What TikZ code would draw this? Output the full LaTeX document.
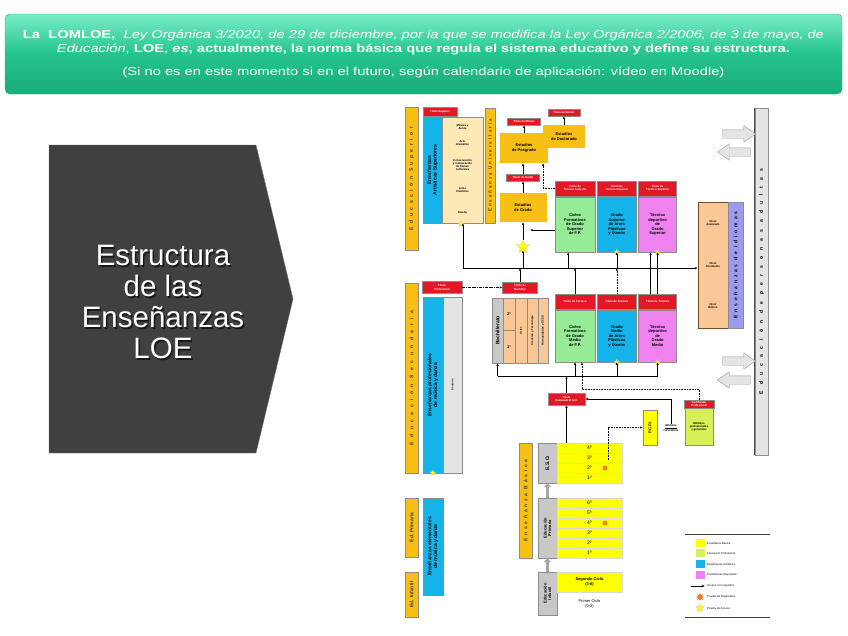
\documentclass[tikz,border=0pt]{standalone}
\usepackage{fontspec}
\setmainfont{Liberation Sans}
\newfontfamily\bannerfont[FakeStretch=1.28]{Liberation Sans}
\usetikzlibrary{arrows.meta,shapes.geometric,shapes.arrows,positioning,calc}

\definecolor{bangreen}{RGB}{36,196,140}
\definecolor{banlight}{RGB}{120,236,200}
\definecolor{bandark}{RGB}{26,172,120}
\definecolor{slate}{RGB}{64,64,64}
\definecolor{gold}{RGB}{247,190,20}
\definecolor{tred}{RGB}{226,24,36}
\definecolor{skyb}{RGB}{20,180,235}
\definecolor{cream}{RGB}{252,233,182}
\definecolor{mint}{RGB}{150,235,150}
\definecolor{orchid}{RGB}{240,130,240}
\definecolor{peach}{RGB}{250,200,150}
\definecolor{lgrey}{RGB}{200,200,200}
\definecolor{pale}{RGB}{228,228,228}
\definecolor{lemon}{RGB}{255,255,0}
\definecolor{lime}{RGB}{215,240,90}
\definecolor{lilac}{RGB}{155,155,240}
\definecolor{tangerine}{RGB}{245,120,30}

\newcommand\dfont{\fontsize{4}{4.5}\selectfont\bfseries}
\newcommand\rfont{\fontsize{5}{5.6}\selectfont\bfseries}
\newcommand\tfont{\fontsize{2.8}{3.1}\selectfont\bfseries}
\newcommand\bfont{\bannerfont\fontsize{11.5}{14}\selectfont}
\newcommand\barfont[2]{\fontsize{#1}{#1}\selectfont\bfseries\addfontfeatures{LetterSpace=#2}}

\begin{document}
\begin{tikzpicture}[
  x=1pt,y=-1pt,
  wh/.style 2 args={minimum width=#1pt,minimum height=#2pt},
  banner/.style={rounded corners=5pt,top color=banlight,bottom color=bandark,middle color=bangreen,draw=bandark,text=white,align=center,font=\bfont,inner sep=0pt},
  cell/.style={draw=black!45,line width=0.3pt,inner sep=0.3pt,align=center,font=\dfont},
  bar/.style={cell,fill=gold,rotate=90,text=black!75},
  ubox/.style={cell,fill=gold,draw=none},
  tit/.style={cell,fill=tred,text=white,font=\tfont},
  lbl/.style={inner sep=0pt,align=center,font=\tfont},
  yel/.style={cell,fill=lemon,draw=black!15},
  pstar/.style={star,star points=5,star point ratio=2.2,fill=lemon,draw=black!25,line width=0.2pt,inner sep=0pt,minimum size=#1pt},
  dstar/.style={star,star points=8,star point ratio=1.8,fill=tangerine,inner sep=0pt,minimum size=6pt},
  arr/.style={-{Latex[length=2.6pt,width=2.2pt]},line width=0.6pt},
  dotarr/.style={arr,densely dotted},
  dasharr/.style={arr,densely dashdotted},
  growarr/.style={-{Triangle[length=4pt,width=7pt]},line width=3pt,draw=black!35},
  blk/.style={single arrow,draw=black!40,fill=pale,minimum height=33pt,minimum width=16pt,inner sep=4pt,single arrow head extend=4pt,single arrow tip angle=70}
]
\useasboundingbox (0,0) rectangle (848,635);

\node[banner,wh={837}{80}] (banner) at (423.5,54) {%
  {\bfseries La\ \ LOMLOE,}\ \ \textit{Ley Orgánica 3/2020, de 29 de diciembre, por la que se modifica la Ley Orgánica 2/2006, de 3 de mayo, de}\\
  \textit{Educación}, \textbf{LOE}, \textbf{\textit{es}}\textbf{, actualmente, la norma básica que regula el sistema educativo y define su estructura.}\\[9pt]
  (Si no es en este momento si en el futuro, según calendario de aplicación: vídeo en Moodle)};

\filldraw[fill=slate,draw=black!55] (49,145) -- (256,145) -- (293,299) -- (256,453) -- (49,453) -- cycle;
\node[text=black!90,align=center,font=\fontsize{29.5}{31}\selectfont] (titleshadow) at (164.5,303.5) {Estructura\\de las\\Enseñanzas\\LOE};
\node[text=white,align=center,font=\fontsize{29.5}{31}\selectfont] (title) at (163,302) {Estructura\\de las\\Enseñanzas\\LOE};

\node[bar,wh={143}{13},font=\barfont{5}{70}] (supbar) at (411.5,178.5) {Educación Superior};
\node[tit,wh={34}{9}] (tsup) at (440,111.5) {Título Superior};
\node[cell,fill=skyb,rotate=90,wh={106}{19},font=\rfont] (artsup) at (432.5,170) {Enseñanzas\\Artísticas Superiores};
\node[cell,fill=cream,wh={41}{106}] (artlist) at (462.5,170) {};
\node[lbl] (musica) at (462.5,127) {Música y\\danza};
\node[lbl] (arte) at (462.5,143) {Arte\\dramático};
\node[lbl] (conserv) at (462.5,165) {Conservación\\y restauración\\de bienes\\culturales};
\node[lbl] (plast) at (462.5,190) {Artes\\Plásticas};
\node[lbl] (diseno) at (462.5,212) {Diseño};
\node[pstar=6] (sart) at (461,224) {};

\node[bar,wh={115}{10},font=\barfont{4.5}{43}] (univbar) at (490,165.5) {Enseñanza Universitaria};
\node[ubox,wh={42}{23}] (doct) at (564,136.5) {Estudios\\de Doctorado};
\node[ubox,wh={48}{30}] (posg) at (524,148) {Estudios\\de Posgrado};
\node[tit,wh={33}{7}] (tmaster) at (524,121.5) {Título de Máster};
\node[tit,wh={32}{7}] (tdoctor) at (564,112.5) {Título de Doctor};
\node[tit,wh={33}{7}] (tgrado) at (523,177.5) {Título de Grado};
\node[ubox,wh={47}{29}] (grado) at (523,207.5) {Estudios\\de Grado};
\node[pstar=14] (pacc) at (523,247) {};

\node[cell,fill=mint,wh={40}{55}] (cfgs) at (575,224.5) {Ciclos\\Formativos\\de Grado\\Superior\\de F.P.};
\node[cell,fill=skyb,wh={39}{55},right=2pt of cfgs] (apgs) {Grado\\Superior\\de Artes\\Plásticas\\y Diseño};
\node[cell,fill=orchid,wh={38}{55},right=2pt of apgs] (tdgs) {Técnico\\deportivo\\de\\Grado\\Superior};
\node[tit,wh={40}{15},above=1pt of cfgs] (tcfgs) {Título de\\Técnico Superior};
\node[tit,wh={39}{15},above=1pt of apgs] (tapgs) {Título de\\Técnico Superior};
\node[tit,wh={38}{15},above=1pt of tdgs] (ttdgs) {Título de\\Técnico Superior};
\node[pstar=6] (sapgs) at (apgs.south) {};
\node[pstar=6] (stdgs) at (tdgs.south) {};

\node[bar,wh={190}{13},font=\barfont{5}{90}] (secbar) at (411.5,378) {Educación Secundaria};
\node[tit,wh={40}{12}] (tprof) at (442,287.5) {Título\\Profesional};
\node[cell,fill=skyb,rotate=90,wh={176}{20},font=\rfont] (profmd) at (433,385) {Enseñanzas profesionales\\de música y danza};
\node[cell,fill=pale,rotate=90,wh={176}{19},font=\tfont] (seis) at (452.5,385) {6 cursos};
\node[pstar=6] (sprof) at (433,473) {};

\node[bar,wh={59}{13},font=\rfont] (prbar) at (411.5,527.5) {Ed. Primaria};
\node[cell,fill=skyb,rotate=90,wh={97}{20},font=\rfont] (elemd) at (433,546.5) {Enseñanzas elementales\\de música y danza};
\node[bar,wh={45}{13},font=\rfont] (infbar) at (411.5,594.5) {Ed. Infantil};

\node[tit,wh={35}{11}] (tbach) at (520,287.5) {Título de\\Bachiller};
\node[cell,fill=lgrey,rotate=90,wh={65}{11},font=\rfont] (bachlab) at (497.5,330.5) {Bachillerato};
\node[cell,fill=peach,wh={12}{32.5}] (bach2) at (509,314.25) {2º};
\node[cell,fill=peach,wh={12}{32.5}] (bach1) at (509,346.75) {1º};
\node[cell,fill=peach,rotate=90,wh={65}{12},font=\tfont] (artes) at (521,330.5) {Artes};
\node[cell,fill=peach,rotate=90,wh={65}{11},font=\tfont] (cyt) at (532.5,330.5) {Ciencias y Tecnología};
\node[cell,fill=peach,rotate=90,wh={65}{10},font=\tfont] (hcs) at (543,330.5) {Humanidades y CCSS};

\node[cell,fill=mint,wh={40}{52}] (cfgm) at (575,336) {Ciclos\\Formativos\\de Grado\\Medio\\de F.P.};
\node[cell,fill=skyb,wh={39}{52},right=2pt of cfgm] (apgm) {Grado\\Medio\\de Artes\\Plásticas\\y Diseño};
\node[cell,fill=orchid,wh={38}{52},right=2pt of apgm] (tdgm) {Técnico\\deportivo\\de\\Grado\\Medio};
\node[tit,wh={40}{15},above=1pt of cfgm] (tcfgm) {Título de Técnico};
\node[tit,wh={39}{15},above=1pt of apgm] (tapgm) {Título de Técnico};
\node[tit,wh={38}{15},above=1pt of tdgm] (ttdgm) {Título de Técnico};
\node[pstar=6] (sapgm) at (apgm.south) {};
\node[pstar=6] (stdgm) at (tdgm.south) {};

\node[tit,wh={37}{12}] (tgeso) at (566.5,399) {Título\\Graduado E.S.O.};
\node[bar,wh={115}{13},font=\barfont{5}{55}] (basbar) at (525.5,500.5) {Enseñanza Básica};
\node[cell,fill=lgrey,rotate=90,wh={40}{19},font=\rfont] (esolab) at (547.5,463) {E.S.O.};
\foreach \c [count=\i] in {4,3,2,1}
  \node[yel,wh={65}{10},font=\rfont\mdseries] (eso\c) at (589.5,438+10*\i) {\c º};
\node[cell,fill=lgrey,rotate=90,wh={60}{19}] (primlab) at (547.5,528) {Educación\\Primaria};
\foreach \c [count=\i] in {6,5,4,3,2,1}
  \node[yel,wh={65}{10},font=\rfont\mdseries] (prim\c) at (589.5,493+10*\i) {\c º};
\node[cell,fill=lgrey,rotate=90,wh={43}{19}] (inflab) at (547.5,593.5) {Educación\\Infantil};
\node[yel,wh={65}{20}] (infseg) at (589.5,582) {Segundo Ciclo\\(3-6)};
\node[lbl,font=\dfont\mdseries] (infpri) at (589.5,604) {Primer Ciclo\\(0-3)};
\node[dstar] (diag1) at (605,468) {};
\node[dstar] (diag2) at (605,523) {};

\node[cell,fill=lemon,rotate=90,wh={35}{14}] (pcpi) at (650,427.5) {P.C.P.I.};
\node[lbl,font=\tfont\itshape] (volunt) at (671,428) {\underline{Módulos}\\voluntarios};
\node[cell,fill=lime,wh={28}{37},font=\tfont] (modprof) at (699,426.5) {Módulos\\profesionales\\y generales};
\node[tit,wh={30}{8}] (tcert) at (699,404) {Certificado\\Profesional};

\node[cell,fill=peach,draw=brown!60!black,wh={30}{126}] (idiom) at (713,265) {};
\node[lbl] (navz) at (713,223) {Nivel\\Avanzado};
\node[lbl] (nint) at (713,265) {Nivel\\Intermedio};
\node[lbl] (nbas) at (713,306) {Nivel\\Básico};
\node[cell,fill=lilac,rotate=90,wh={126}{15},font=\barfont{5}{56}] (idibar) at (735.5,265) {Enseñanzas de idiomas};
\node[cell,fill=pale,rotate=90,wh={347}{13},font=\barfont{5}{120}] (adult) at (761.5,281.5) {Educación de personas adultas};
\draw[line width=1pt,black!70] (adult.north west) -- (adult.north east);
\node[blk] (inup) at (736,134) {};
\node[blk,shape border rotate=180] (outup) at (737,152) {};
\node[blk] (inlow) at (736,361) {};
\node[blk,shape border rotate=180] (outlow) at (737,380) {};

\draw[arr] (posg.north) -- (tmaster.south);
\draw[arr] (doct.north) -- (tdoctor.south);
\draw[arr] (grado.north) -- (tgrado.south);
\draw[arr] (tgrado.north) -- (tgrado.north |- posg.south);
\draw[dotarr] (tcfgs.west) -| ([xshift=-5pt]posg.south east);
\draw[arr] (pacc.north) -- (pacc.north |- grado.south);
\coordinate (gin) at (530,230);
\draw[arr] (cfgs.west |- gin) -- (gin);

\coordinate (hw) at (463,268);
\coordinate (a1) at ($(cfgs.south west)!.33!(cfgs.south east)$);
\draw[arr] (hw) -- (hw -| idiom.west);
\draw[arr] (hw) -- (hw |- artlist.south);
\draw[arr] (hw -| pacc) -- (pacc.south);
\draw[arr] (a1 |- hw) -- (a1);
\draw[arr] (apgs.south |- hw) -- (apgs.south);
\draw[arr] (ttdgm.north) -- (tdgs.south);
\draw[arr] ([xshift=-7pt]ttdgm.north) -- ([xshift=-7pt]tdgs.south);
\draw[arr] (tcfgm.north) -- (tcfgm.north |- hw);
\draw[dotarr] (tapgm.north) -- (tapgm.north |- hw);
\draw[arr] (tbach.north) -- (tbach.north |- hw);
\draw[dasharr] (tprof.east) -- (tbach.west);

\coordinate (lw) at (497.5,376);
\coordinate (a2) at ($(cfgm.south)+(7,0)$);
\draw[line width=0.6pt] (lw) -- (lw -| tdgm.south);
\draw[arr] (lw) -- (bachlab.west);
\draw[arr] (cfgm.south |- lw) -- (cfgm.south);
\draw[arr] (apgm.south |- lw) -- (apgm.south);
\draw[arr] (tdgm.south |- lw) -- (tdgm.south);
\draw[arr] (tgeso.north) -- (tgeso.north |- lw);
\draw[arr] (eso4.north -| tgeso) -- (tgeso.south);
\coordinate (pv) at (608,460);
\draw[dotarr] (pv) |- (pcpi.north);
\draw[arr] (volunt.north) |- (tgeso.east);
\draw[dotarr] (tcert.north) -- ++(0,-11) -| (a2);
\draw[growarr] (primlab.east) -- (esolab.west);
\draw[growarr] (inflab.east) -- (primlab.west);

\draw[line width=0.8pt,black!75] (685,534) -- (770,534);
\draw[line width=0.8pt,black!75] (685,617) -- (770,617);
\foreach \y/\c/\t [count=\i] in {543/lemon/Enseñanza Básica,553/lime/Formación Profesional,564/skyb/Enseñanzas Artísticas,575/orchid/Enseñanzas Deportivas}{
  \node[cell,fill=\c,draw=none,wh={9}{8}] (key\i) at (700,\y) {};
  \node[lbl,font=\tfont\mdseries,anchor=west] (keytext\i) at (707,\y) {\t};
}
\coordinate (k5a) at (691,586);
\coordinate (k5b) at (705,586);
\draw[arr] (k5a) -- (k5b);
\node[lbl,font=\tfont\mdseries,anchor=west] (keytext5) at (707,586) {Acceso con requisitos};
\node[dstar,minimum size=8pt] (key6) at (700,597) {};
\node[lbl,font=\tfont\mdseries,anchor=west] (keytext6) at (707,597) {Prueba de Diagnóstico};
\node[pstar=9] (key7) at (700,608) {};
\node[lbl,font=\tfont\mdseries,anchor=west] (keytext7) at (707,608) {Prueba de Acceso};
\end{tikzpicture}
\end{document}
